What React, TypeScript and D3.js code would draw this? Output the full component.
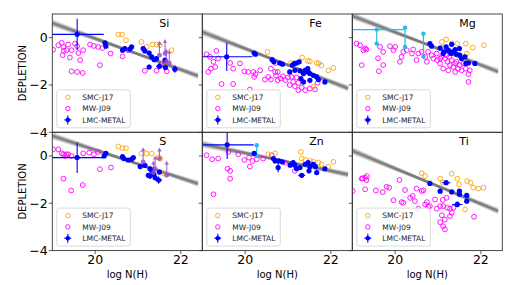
import * as d3 from "d3";

// element panels, in reading order
const elements = ["Si", "Fe", "Mg", "S", "Zn", "Ti"];
const xTicks = [20, 22];
const yTicks = [0, -2, -4];
const legendLabels = ["SMC-J17", "MW-J09", "LMC-METAL"];

// fit line per element: value at logN=19 and at logN=22.5
const fitStart = [0.62, 0.24, 0.92, 0.85, 0.5, 0.22];
const fitEnd = [-1.68, -2.21, -1.5, -1.23, -0.82, -2.4];

// ---- Si ----
const siSMC = [[20.54,0.13],[20.63,0.13],[20.72,-0.11],[21.08,-0.18],[21.2,-0.39],[21.34,-0.29],[21.43,-0.29],[21.51,-0.32],[21.78,-0.53],[21.6,-1.1]];
const siMW = [[19.02,-0.51],[19.14,-0.32],[19.22,-0.22],[19.26,-0.39],[19.27,-0.56],[19.24,-0.74],[19.33,-0.53],[19.37,-0.29],[19.41,-0.84],[19.45,-0.53],[19.53,-0.25],[19.58,-0.36],[19.61,-0.65],[19.65,-0.95],[19.72,-0.53],[19.45,-1.42],[19.58,-1.45],[19.71,-1.49],[19.88,-0.29],[19.97,-0.35],[20.07,-0.39],[20.11,-1.16],[20.17,-0.44],[20.36,-0.67],[20.64,-0.79],[20.77,-0.53],[21.16,-1.4],[21.43,-1.4],[21.53,-1.16],[21.67,-1.42]];
const siLMC = [[19.58,0.14,0.62,0.66],[20.23,-0.22,0.04,0.08],[20.25,-0.36,0.04,0.08],[20.64,-0.53,0.04,0.08],[20.69,-0.46,0.04,0.08],[20.81,-0.48,0.05,0.08],[20.85,-0.39,0.05,0.08],[21.12,-0.46,0.05,0.1],[21.16,-0.56,0.05,0.1],[21.26,-0.65,0.05,0.1],[21.32,-0.81,0.05,0.1],[21.38,-0.93,0.05,0.1],[21.43,-0.88,0.05,0.1],[21.26,-1.24,0.05,0.1],[21.5,-1.21,0.08,0.12],[21.63,-0.95,0.05,0.1],[21.64,-1.26,0.05,0.12],[21.86,-1.33,0.05,0.15]];
const siLim = [[21.5,-0.74,0.55],[21.63,-0.67,0.55],[21.66,-1.02,0.5],[21.73,-1.07,0.5]];

// ---- Fe ----
const feSMC = [[20.52,-0.6],[21.07,-1.07],[21.33,-0.84],[21.46,-0.98],[21.51,-1.0],[21.67,-1.07],[21.72,-1.09],[21.78,-1.18],[21.94,-1.38],[22.06,-1.28],[21.59,-2.08]];
const feMW = [[19.1,-0.7],[19.18,-0.81],[19.26,-1.02],[19.33,-0.56],[19.37,-0.88],[19.3,-1.24],[19.2,-1.31],[19.14,-1.45],[19.45,-1.96],[19.72,-1.96],[19.65,-1.07],[19.72,-1.31],[19.88,-1.09],[19.98,-1.42],[20.07,-1.45],[20.19,-1.45],[20.21,-1.66],[20.24,-1.54],[20.35,-1.38],[20.11,-2.19],[20.46,-1.77],[20.54,-1.66],[20.6,-1.77],[20.7,-1.45],[20.71,-1.07],[20.72,-1.6],[20.76,-1.8],[20.83,-1.73],[20.88,-1.63],[20.94,-1.8],[21.0,-1.68],[21.08,-1.66],[21.12,-1.87],[21.16,-2.05],[21.2,-1.68],[21.24,-1.91],[21.32,-2.11],[21.4,-2.22],[21.51,-2.15],[21.63,-2.19],[21.24,-2.22],[20.76,-1.45],[20.6,-1.31],[21.04,-2.0],[21.69,-1.91]];
const feLMC = [[19.57,-0.81,0.6,0.6],[20.21,-0.65,0.04,0.08],[20.24,-0.7,0.04,0.08],[20.63,-0.93,0.04,0.08],[20.67,-1.02,0.04,0.08],[20.81,-1.07,0.04,0.08],[20.87,-1.12,0.04,0.08],[21.04,-1.45,0.04,0.08],[21.1,-1.16,0.04,0.08],[21.15,-1.09,0.04,0.08],[21.2,-1.07,0.04,0.08],[21.26,-1.02,0.04,0.08],[21.16,-1.38,0.04,0.08],[21.28,-1.4,0.04,0.1],[21.36,-1.52,0.04,0.1],[21.4,-1.38,0.04,0.1],[21.46,-1.31,0.04,0.1],[21.47,-1.45,0.04,0.1],[21.51,-1.52,0.04,0.1],[21.3,-1.73,0.04,0.1],[21.36,-1.87,0.04,0.1],[21.51,-1.8,0.04,0.1],[21.59,-1.59,0.04,0.1],[21.67,-1.66,0.04,0.1],[21.71,-1.77,0.04,0.1],[21.86,-1.87,0.04,0.1]];

// ---- Mg ----
const mgSMC = [[21.09,-0.18],[21.19,-0.08],[21.32,-0.25],[21.45,-0.25],[21.65,-0.25],[21.81,-0.42],[22.07,-0.32],[21.11,-0.42],[21.67,-0.67]];
const mgMW = [[19.1,-0.25],[19.18,-0.32],[19.26,-0.53],[19.3,-0.46],[19.33,-0.5],[19.22,-1.16],[19.6,-0.87],[19.62,-1.42],[19.65,-0.39],[19.72,-0.6],[19.72,-1.16],[19.88,-0.36],[19.96,-0.53],[20.0,-0.39],[20.11,-1.02],[20.15,-0.81],[20.19,-0.6],[20.27,-0.53],[20.39,-0.67],[20.42,-0.5],[20.5,-0.95],[20.54,-0.67],[20.62,-0.6],[20.7,-0.81],[20.74,-1.02],[20.77,-0.6],[20.85,-0.74],[20.89,-0.88],[20.97,-0.67],[20.98,-0.95],[21.05,-1.09],[21.09,-0.81],[21.12,-1.31],[21.16,-0.88],[21.22,-1.02],[21.24,-1.38],[21.28,-1.16],[21.32,-0.95],[21.36,-1.24],[21.4,-1.45],[21.43,-1.02],[21.47,-1.31],[21.51,-1.16],[21.55,-1.38],[21.59,-1.09],[21.65,-1.31],[21.71,-1.54],[21.74,-1.38],[21.71,-1.87],[21.4,-1.09],[21.05,-0.88],[21.2,-0.74],[21.26,-0.81]];
const mgLMC = [[20.81,-0.25,0.04,0.08],[20.85,-0.36,0.04,0.08],[21.05,-0.44,0.04,0.08],[21.14,-0.6,0.04,0.08],[21.19,-0.39,0.04,0.08],[21.24,-0.53,0.04,0.08],[21.3,-0.67,0.04,0.08],[21.34,-0.6,0.04,0.08],[21.4,-0.5,0.04,0.08],[21.43,-0.7,0.04,0.08],[21.5,-0.46,0.04,0.08],[21.51,-0.74,0.04,0.08],[21.55,-0.88,0.04,0.08],[21.63,-0.81,0.04,0.08],[21.65,-1.09,0.04,0.08],[21.71,-1.07,0.04,0.08],[21.86,-1.09,0.04,0.08],[21.32,-0.28,0.04,0.08],[21.12,-0.67,0.04,0.08]];
// [logN, top, bottom, xerr]
const mgCyan = [[19.57,0.34,-0.25,0.62],[20.23,0.42,-0.39,0],[20.66,0.17,-0.8,0]];

// ---- S ----
const sSMC = [[20.54,0.4],[20.64,0.33],[20.72,0.33],[21.08,0.1],[21.2,0.1],[21.32,0.1],[21.48,-0.07],[21.52,-0.11],[21.61,-0.75]];
const sMW = [[19.02,0.28],[19.14,0.28],[19.22,0.11],[19.26,0.07],[19.3,0.0],[19.33,0.07],[19.37,0.07],[19.45,0.0],[19.72,0.11],[19.86,0.14],[19.97,0.07],[20.07,0.17],[19.26,-0.96],[19.44,-1.46],[19.71,-1.23],[20.11,-0.56],[20.37,-0.49]];
const sLMC = [[19.58,-0.07,0.62,0.65],[20.21,0.0,0.04,0.08],[20.25,0.11,0.04,0.08],[20.64,-0.03,0.04,0.08],[20.67,-0.11,0.04,0.08],[20.77,-0.17,0.04,0.08],[20.85,-0.14,0.04,0.08],[20.89,-0.07,0.04,0.08],[21.05,-0.45,0.04,0.08],[21.16,-0.4,0.04,0.08],[21.28,-0.54,0.04,0.08],[21.32,-0.63,0.04,0.08],[21.24,-0.82,0.04,0.1],[21.28,-0.85,0.04,0.1],[21.4,-0.92,0.04,0.1],[21.5,-0.68,0.04,0.1],[21.48,-1.02,0.08,0.15],[21.37,-0.78,0.04,0.1]];
const sLim = [[21.12,-0.25,0.55],[21.4,-0.54,0.5],[21.67,-0.82,0.55],[21.5,-0.11,0.4],[21.36,-0.7,0.45]];

// ---- Zn ----
const znSMC = [[20.54,0.07],[20.7,0.11],[21.3,0.17],[21.32,-0.11],[21.4,-0.17],[21.51,-0.21],[21.59,-0.25],[21.71,-0.28],[21.78,-0.35],[21.94,-0.45],[22.06,-0.25]];
const znMW = [[19.1,0.03],[19.23,-0.14],[19.37,-0.11],[19.61,0.17],[19.59,-0.54],[19.65,-0.63],[19.65,-0.96],[19.26,-1.62],[19.84,0.07],[19.98,-0.17],[20.09,-0.07],[20.11,-0.45],[20.17,-0.21],[20.27,-0.14],[20.42,-0.11],[20.62,0.03],[20.93,-0.28],[21.16,-0.63]];
const znLMC = [[19.58,0.47,0.62,0.6],[20.21,0.11,0.04,0.08],[20.66,-0.11,0.04,0.08],[20.7,-0.21,0.04,0.08],[20.79,-0.21,0.04,0.08],[20.77,-0.49,0.04,0.2],[20.87,-0.25,0.04,0.08],[21.05,-0.39,0.04,0.08],[21.12,-0.28,0.04,0.08],[21.16,-0.39,0.04,0.08],[21.2,-0.54,0.04,0.08],[21.28,-0.49,0.04,0.08],[21.32,-0.82,0.08,0.1],[21.4,-0.35,0.04,0.08],[21.47,-0.28,0.04,0.08],[21.51,-0.45,0.04,0.08],[21.49,-0.63,0.04,0.1],[21.59,-0.35,0.04,0.08],[21.64,-0.45,0.04,0.08],[21.67,-0.7,0.04,0.12],[21.86,-0.54,0.04,0.08]];
const znCyan = [[20.27,0.45,0.0,0]];

// ---- Ti ----
const tiSMC = [[20.62,-0.73],[20.7,-0.85],[21.05,-0.96],[21.11,-1.13],[21.32,-0.75],[21.45,-0.96],[21.49,-1.2],[21.68,-1.06],[21.76,-1.13],[21.82,-1.34],[21.94,-1.38],[22.06,-1.34],[21.63,-2.26]];
const tiMW = [[19.01,-1.48],[19.22,-0.96],[19.24,-0.94],[19.3,-0.92],[19.34,-0.85],[19.33,-1.02],[19.3,-1.41],[19.55,-1.46],[19.71,-1.53],[19.8,-1.3],[19.86,-1.34],[19.96,-1.87],[20.1,-1.02],[20.15,-1.95],[20.19,-1.98],[20.23,-1.44],[20.35,-1.77],[20.41,-1.69],[20.46,-1.91],[20.5,-1.38],[20.54,-2.23],[20.62,-1.48],[20.66,-1.45],[20.7,-2.05],[20.74,-1.95],[20.77,-2.15],[20.81,-2.12],[20.93,-1.84],[20.97,-2.23],[21.05,-2.12],[21.11,-1.86],[21.12,-2.12],[21.2,-1.77],[21.22,-2.19],[21.28,-2.23],[21.05,-2.8],[21.16,-2.69],[21.12,-2.97],[21.16,-3.1],[21.28,-2.54],[21.36,-2.19],[21.09,-2.51],[21.84,-2.57],[21.32,-2.4]];
const tiLMC = [[20.81,-1.16,0.04,0.08],[21.05,-1.49,0.04,0.08],[21.19,-1.13,0.1,0.08],[21.32,-1.52,0.04,0.08],[21.5,-1.48,0.04,0.08],[21.5,-1.62,0.04,0.08],[21.45,-2.05,0.12,0.12],[21.67,-1.67,0.04,0.08],[21.67,-1.91,0.04,0.08]];

const smcSets = [siSMC, feSMC, mgSMC, sSMC, znSMC, tiSMC];
const mwSets = [siMW, feMW, mgMW, sMW, znMW, tiMW];
const lmcSets = [siLMC, feLMC, mgLMC, sLMC, znLMC, tiLMC];
const limSets = [siLim, [], [], sLim, [], []];
const cyanSets = [[], [], mgCyan, [], znCyan, []];

const W = 529;
const H = 285;
const left = 52.3;
const top = 14;
const pw = 150;
const ph = 118.3;
const font = "DejaVu Sans, sans-serif";

const ORANGE = "#ffa500";
const MAGENTA = "#ff00ff";
const BLUE = "#0000ff";
const CYAN = "#22bbee";
const PURPLE = "#9a4bd0";

function Panel({ i }: { i: number }) {
  const col = i % 3;
  const row = Math.floor(i / 3);
  const x0 = left + col * pw;
  const y0 = top + row * ph;
  const x = d3.scaleLinear().domain([19, 22.5]).range([x0, x0 + pw]);
  const y = d3.scaleLinear().domain([-4, 1]).range([y0 + ph, y0]);
  const clip = `clip-${i}`;

  const slope = (fitEnd[i] - fitStart[i]) / 3.5;
  const fitAt = (v: number) => fitStart[i] + slope * (v - 19);
  const fan = [-3, -2, -1, 0, 1, 2, 3];
  const line = d3
    .line<number[]>()
    .x((d) => x(d[0]))
    .y((d) => y(d[1]));

  const lx = x0 + 4.5;
  const lyb = y0 + ph - 4.5;
  const ly = lyb - 38;

  return (
    <g>
      <defs>
        <clipPath id={clip}>
          <rect x={x0} y={y0} width={pw} height={ph} />
        </clipPath>
      </defs>
      <g clipPath={`url(#${clip})`}>
        {fan.map((k) => {
          const s = slope + k * 0.018;
          const pts = [19, 22.4].map((v) => [v, fitAt(20.9) + s * (v - 20.9)]);
          return (
            <path key={k} d={line(pts) || ""} fill="none" stroke="#555"
              strokeOpacity={0.16} strokeWidth={2.6} />
          );
        })}
        <path d={line([[19, fitAt(19)], [22.4, fitAt(22.4)]]) || ""} fill="none"
          stroke="#777" strokeOpacity={0.75} strokeWidth={2.4} />

        {mwSets[i].map((d, j) => (
          <circle key={"mw" + j} cx={x(d[0])} cy={y(d[1])} r={2.4}
            fill="none" stroke={MAGENTA} strokeWidth={0.9} />
        ))}
        {smcSets[i].map((d, j) => (
          <circle key={"smc" + j} cx={x(d[0])} cy={y(d[1])} r={2.4}
            fill="none" stroke={ORANGE} strokeWidth={0.9} />
        ))}
        {cyanSets[i].map((d, j) => (
          <g key={"cy" + j} stroke={CYAN} fill={CYAN}>
            <line x1={x(d[0])} x2={x(d[0])} y1={y(d[1])} y2={y(d[2])} strokeWidth={1.2} />
            {d[3] > 0 && (
              <line x1={x(d[0] - d[3])} x2={x(d[0] + d[3])} y1={y(d[1])} y2={y(d[1])} strokeWidth={1.2} />
            )}
            <circle cx={x(d[0])} cy={y(d[1])} r={2.2} stroke="none" />
            <circle cx={x(d[0])} cy={y(d[2])} r={2.2} stroke="none" />
          </g>
        ))}
        {lmcSets[i].map((d, j) => (
          <g key={"lmc" + j} stroke={BLUE}>
            <line x1={x(d[0] - d[2])} x2={x(d[0] + d[2])} y1={y(d[1])} y2={y(d[1])} strokeWidth={1.1} />
            <line x1={x(d[0])} x2={x(d[0])} y1={y(d[1] - d[3])} y2={y(d[1] + d[3])} strokeWidth={1.1} />
            <circle cx={x(d[0])} cy={y(d[1])} r={2.6} fill={BLUE} stroke="none" />
          </g>
        ))}
        {limSets[i].map((d, j) => {
          const ya = y(d[1] + d[2]);
          return (
            <g key={"lim" + j} stroke={PURPLE} fill={PURPLE} opacity={0.85}>
              <line x1={x(d[0])} x2={x(d[0])} y1={y(d[1])} y2={ya + 2} strokeWidth={1.1} />
              <path d={`M${x(d[0])},${ya - 1.5} l-2.2,4 l4.4,0 z`} stroke="none" />
              <circle cx={x(d[0])} cy={y(d[1])} r={2.4} stroke="none" />
            </g>
          );
        })}
      </g>

      {/* frame */}
      <rect x={x0} y={y0} width={pw} height={ph} fill="none" stroke="#333" strokeWidth={0.9} />

      {/* y ticks */}
      {yTicks.map((t) => (
        <g key={"yt" + t}>
          <line x1={x0 - 3.5} x2={x0} y1={y(t)} y2={y(t)} stroke="#333" strokeWidth={0.8} />
          {col === 0 && (
            <text x={x0 - 4.5} y={y(t) + 4.3} textAnchor="end" fontSize={12.5}
              fontFamily={font} fill="#000">
              {t === 0 ? "0" : `\u2212${Math.abs(t)}`}
            </text>
          )}
        </g>
      ))}
      {/* x ticks */}
      {row === 1 &&
        xTicks.map((t) => (
          <g key={"xt" + t}>
            <line x1={x(t)} x2={x(t)} y1={y0 + ph} y2={y0 + ph + 3.5} stroke="#333" strokeWidth={0.8} />
            <text x={x(t)} y={y0 + ph + 13.8} textAnchor="middle" fontSize={12.5}
              fontFamily={font} fill="#000">
              {t}
            </text>
          </g>
        ))}
      {row === 1 && (
        <text x={x0 + pw / 2} y={y0 + ph + 27.5} textAnchor="middle" fontSize={10}
          fontFamily={font} fill="#000">
          log N(H)
        </text>
      )}
      {col === 0 && (
        <text transform={`translate(${26},${y0 + ph / 2}) rotate(-90)`} textAnchor="middle"
          fontSize={10} fontFamily={font} fill="#000">
          DEPLETION
        </text>
      )}

      {/* element name */}
      <text x={x0 + 107} y={y0 + 12.6} fontSize={11} fontFamily={font} fill="#000">
        {elements[i]}
      </text>

      {/* legend */}
      <rect x={lx} y={ly} width={73.5} height={38} rx={2.5} fill="#fff" fillOpacity={0.8}
        stroke="#d0d0d0" strokeWidth={0.8} />
      {legendLabels.map((lab, j) => {
        const cy = ly + 7.5 + j * 11.3;
        const mx = lx + 11;
        return (
          <g key={lab}>
            {j === 0 && <circle cx={mx} cy={cy} r={2.2} fill="none" stroke={ORANGE} strokeWidth={0.9} />}
            {j === 1 && <circle cx={mx} cy={cy} r={2.2} fill="none" stroke={MAGENTA} strokeWidth={0.9} />}
            {j === 2 && (
              <g stroke={BLUE} strokeWidth={1.1}>
                <line x1={mx - 3.5} x2={mx + 3.5} y1={cy} y2={cy} />
                <line x1={mx} x2={mx} y1={cy - 4.5} y2={cy + 4.5} />
                <circle cx={mx} cy={cy} r={2.3} fill={BLUE} stroke="none" />
              </g>
            )}
            <text x={lx + 25.5} y={cy + 2.7} fontSize={7.5} fontFamily={font} fill="#222">
              {lab}
            </text>
          </g>
        );
      })}
    </g>
  );
}

export default function App() {
  return (
    <svg width={W} height={H} style={{ position: "absolute", left: 0, top: 0, background: "#fff" }}>
      {elements.map((e, i) => (
        <Panel key={e} i={i} />
      ))}
    </svg>
  );
}
